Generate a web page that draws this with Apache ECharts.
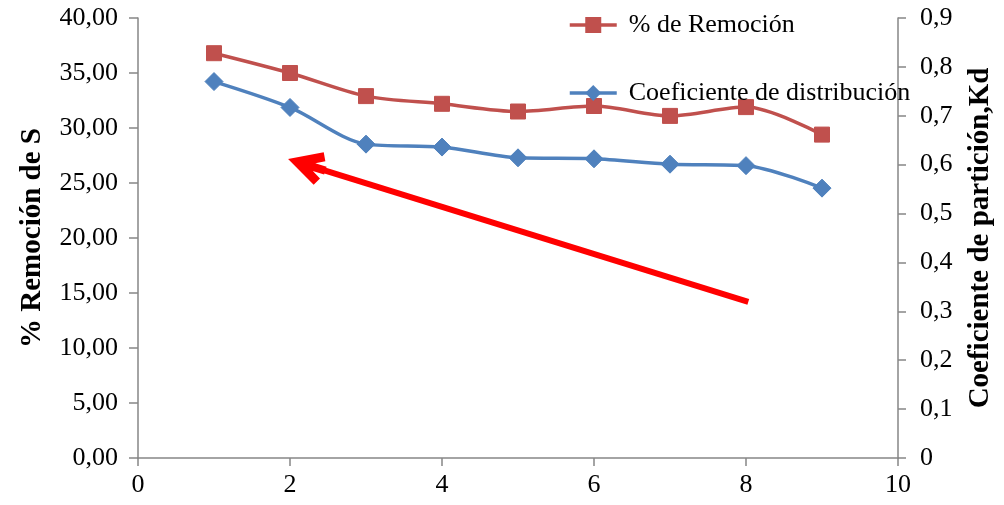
<!DOCTYPE html>
<html>
<head>
<meta charset="utf-8">
<script src="https://cdn.jsdelivr.net/npm/echarts@6/dist/echarts.min.js"></script>
<style>
  html, body { margin: 0; padding: 0; background: #ffffff; }
  #chart { width: 1004px; height: 505px; }
</style>
</head>
<body>
<div id="chart"></div>
<script>
// Experiment number (x) and the two measured responses
const xValues = [1, 2, 3, 4, 5, 6, 7, 8, 9];
const remocion = [36.8, 35.0, 32.9, 32.2, 31.5, 32.0, 31.1, 31.9, 29.4];      // % Remoción de S (left axis)
const coeficiente = [0.770, 0.717, 0.642, 0.636, 0.614, 0.612, 0.601, 0.598, 0.552]; // Kd (right axis)

// Trend arrow, in left-axis data coordinates: [tail, arrowhead centre]
const trendArrow = [[8.03, 14.2], [2.22, 26.65]];

const seriesNames = ['% de Remoción', 'Coeficiente de distribución'];

const serif = 'Liberation Serif, Times New Roman, serif';
const axisGray = '#868686';

const pairs = (xs, ys) => xs.map((x, i) => [x, ys[i]]);
const comma = (v, d) => v.toFixed(d).replace('.', ',');

// Open, narrow chevron arrowhead with a short shaft, tip pointing up
const chevron = 'path://M12.2,0 L24.4,23 L18.7,26 L15.2,19.5 L15.2,28 L9.2,28 L9.2,19.5 L5.7,26 L0,23 Z';

const chart = echarts.init(document.getElementById('chart'), null, { renderer: 'canvas' });

chart.setOption({
  animation: false,
  backgroundColor: '#ffffff',
  grid: { left: 138, right: 106, top: 18, bottom: 47, containLabel: false },
  legend: {
    orient: 'vertical',
    left: 568,
    top: 11,
    padding: 0,
    itemGap: 40,
    itemWidth: 47,
    itemHeight: 20,
    data: seriesNames,
    lineStyle: { width: 3.5 },
    textStyle: {
      fontFamily: serif, fontSize: 26, color: '#000000', lineHeight: 28,
      padding: [0, 0, 0, 7]
    }
  },
  xAxis: {
    type: 'value',
    min: 0,
    max: 10,
    interval: 2,
    axisLine: { show: true, onZero: false, lineStyle: { color: axisGray, width: 1.5 } },
    axisTick: { show: true, length: 8, lineStyle: { color: axisGray, width: 1.5 } },
    splitLine: { show: false },
    axisLabel: { margin: 14, fontFamily: serif, fontSize: 26, color: '#000000' }
  },
  yAxis: [
    {
      type: 'value',
      position: 'left',
      min: 0,
      max: 40,
      interval: 5,
      name: '% Remoción de S',
      nameLocation: 'middle',
      nameRotate: 90,
      nameGap: 91,
      nameTextStyle: { fontFamily: serif, fontSize: 29, fontWeight: 'bold', color: '#000000' },
      axisLine: { show: true, lineStyle: { color: axisGray, width: 1.5 } },
      axisTick: { show: true, length: 9, lineStyle: { color: axisGray, width: 1.5 } },
      splitLine: { show: false },
      axisLabel: {
        margin: 20,
        fontFamily: serif,
        fontSize: 26,
        color: '#000000',
        formatter: v => comma(v, 2)
      }
    },
    {
      type: 'value',
      position: 'right',
      min: 0,
      max: 0.9,
      interval: 0.1,
      name: 'Coeficiente de partición,Kd',
      nameLocation: 'middle',
      nameRotate: 90,
      nameGap: 68,
      nameTextStyle: { fontFamily: serif, fontSize: 29, fontWeight: 'bold', color: '#000000' },
      axisLine: { show: true, lineStyle: { color: axisGray, width: 1.5 } },
      axisTick: { show: true, length: 8, lineStyle: { color: axisGray, width: 1.5 } },
      splitLine: { show: false },
      axisLabel: {
        margin: 22,
        fontFamily: serif,
        fontSize: 26,
        color: '#000000',
        formatter: v => (v === 0 ? '0' : comma(v, 1))
      }
    }
  ],
  series: [
    {
      name: seriesNames[0],
      type: 'line',
      yAxisIndex: 0,
      data: pairs(xValues, remocion),
      smooth: 0.3,
      symbol: 'rect',
      symbolSize: 15,
      lineStyle: { color: '#C0504D', width: 3.5 },
      itemStyle: { color: '#C0504D', borderColor: '#C0504D' },
      markLine: {
        silent: true,
        symbol: ['none', chevron],
        symbolSize: [34, 39],
        label: { show: false },
        lineStyle: { color: '#FF0000', width: 6, type: 'solid' },
        emphasis: { disabled: true },
        data: [[
          { coord: trendArrow[0] },
          { coord: trendArrow[1] }
        ]]
      }
    },
    {
      name: seriesNames[1],
      type: 'line',
      yAxisIndex: 1,
      data: pairs(xValues, coeficiente),
      smooth: 0.3,
      symbol: 'diamond',
      symbolSize: 18,
      lineStyle: { color: '#4F81BD', width: 3.5 },
      itemStyle: { color: '#4F81BD', borderColor: '#4F81BD' }
    }
  ]
});
</script>
</body>
</html>
